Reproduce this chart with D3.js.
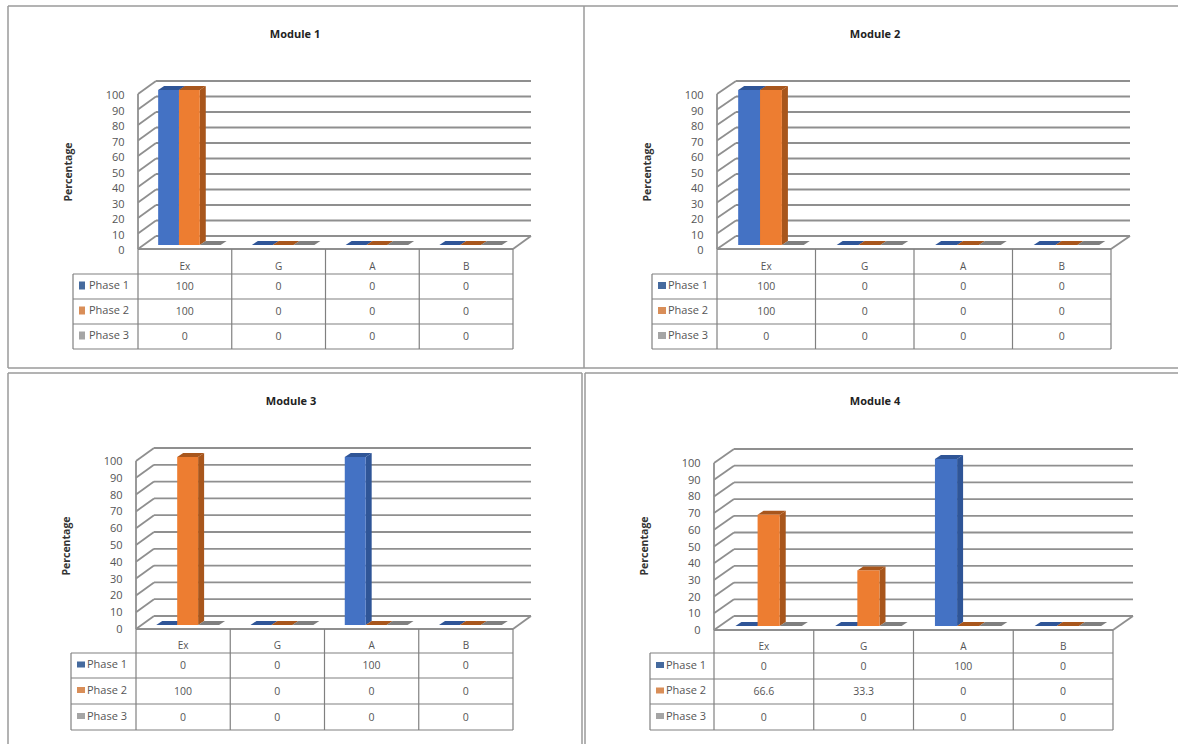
<!DOCTYPE html>
<html>
<head>
<meta charset="utf-8">
<script src="https://cdnjs.cloudflare.com/ajax/libs/d3/7.8.5/d3.min.js"></script>
<style>
  html, body { margin: 0; padding: 0; background: #fff; }
  svg { display: block; }
  text { font-family: "Open Sans", "DejaVu Sans", sans-serif; fill: #555; }
</style>
</head>
<body>
<svg id="sheet" width="1178" height="744"></svg>
<script>
// Table and chart content
const categories = ["Ex", "G", "A", "B"];
const phases = ["Phase 1", "Phase 2", "Phase 3"];
const yTicks = [0, 10, 20, 30, 40, 50, 60, 70, 80, 90, 100];

const module1Phase1 = [100, 0, 0, 0];
const module1Phase2 = [100, 0, 0, 0];
const module1Phase3 = [0, 0, 0, 0];

const module2Phase1 = [100, 0, 0, 0];
const module2Phase2 = [100, 0, 0, 0];
const module2Phase3 = [0, 0, 0, 0];

const module3Phase1 = [0, 0, 100, 0];
const module3Phase2 = [100, 0, 0, 0];
const module3Phase3 = [0, 0, 0, 0];

const module4Phase1 = [0, 0, 100, 0];
const module4Phase2 = [66.6, 33.3, 0, 0];
const module4Phase3 = [0, 0, 0, 0];

// Front, side and top shades for each phase's 3D column
const faceColors = ["#4472c4", "#ed7d31", "#a5a5a5"];
const sideColors = ["#2f5597", "#a8561c", "#7f7f7f"];
const topColors = ["#2f5597", "#a8561c", "#7f7f7f"];
const keyColors = ["#456a9e", "#d98e58", "#a5a5a5"];
const lineColor = "#8f8f8f";

// Placement of the four chart panels on the sheet
const panels = [
  { title: "Module 1", series: [module1Phase1, module1Phase2, module1Phase3],
    titleX: 295, titleY: 38, labelX: 72, labelY: 172, keyW: 6, keyH: 8, labelDy: 1,
    tableLeft: 73, x0: 138, x1: 513, y0: 249, y100: 94, depthX: 18, depthY: 13, rows: [274, 299, 324, 349] },
  { title: "Module 2", series: [module2Phase1, module2Phase2, module2Phase3],
    titleX: 875, titleY: 38, labelX: 651, labelY: 172, keyW: 8, keyH: 7, labelDy: 1,
    tableLeft: 652, x0: 717, x1: 1111, y0: 249, y100: 94, depthX: 19, depthY: 13, rows: [274, 299, 324, 349] },
  { title: "Module 3", series: [module3Phase1, module3Phase2, module3Phase3],
    titleX: 291, titleY: 405, labelX: 70, labelY: 546, keyW: 8, keyH: 6, labelDy: 0,
    tableLeft: 71, x0: 136, x1: 513, y0: 629, y100: 461, depthX: 18, depthY: 13, rows: [653, 678, 704, 730] },
  { title: "Module 4", series: [module4Phase1, module4Phase2, module4Phase3],
    titleX: 875, titleY: 405, labelX: 648, labelY: 546, keyW: 8, keyH: 6, labelDy: 0,
    tableLeft: 650, x0: 714, x1: 1113, y0: 630, y100: 463, depthX: 20, depthY: 14, rows: [653, 679, 704, 730] }
];

const svg = d3.select("#sheet");

// Sheet rules separating the panels
const rules = [
  [8, 6, 1178, 6], [8, 6, 8, 368], [8, 368, 584, 368], [584, 6, 584, 368],
  [584, 368, 1178, 368], [8, 373, 582, 373], [585, 373, 1178, 373],
  [8, 373, 8, 744], [582, 373, 582, 744], [585, 373, 585, 744]
];
svg.append("g").selectAll("line").data(rules).join("line")
  .attr("x1", d => d[0]).attr("y1", d => d[1])
  .attr("x2", d => d[2]).attr("y2", d => d[3])
  .attr("stroke", "#9a9a9a").attr("stroke-width", 1.5);

panels.forEach(drawPanel);

function drawPanel(p) {
  const g = svg.append("g");
  const depthX = p.depthX, depthY = p.depthY; // wall depth of the 3D box
  const barDepthX = 6, barDepthY = 4;         // depth of each column
  const barInsetY = 4;                        // columns stand behind the front edge

  const y = d3.scaleLinear().domain([0, 100]).range([p.y0, p.y100]);
  const x = d3.scaleBand().domain(categories).range([p.x0, p.x1]);
  const bw = x.bandwidth();
  const inner = d3.scaleBand().domain(phases).range([bw * 0.215, bw * 0.881]);

  // Title and axis title
  g.append("text").attr("x", p.titleX).attr("y", p.titleY)
    .attr("text-anchor", "middle").attr("font-size", 11).attr("font-weight", 700)
    .style("fill", "#222").text(p.title);
  g.append("text")
    .attr("transform", `translate(${p.labelX},${p.labelY}) rotate(-90)`)
    .attr("text-anchor", "middle").attr("font-size", 10.5).attr("font-weight", 700)
    .style("fill", "#333").text("Percentage");

  // Back wall gridlines, side wall slants and the floor
  const walls = g.append("g").attr("fill", "none").attr("stroke", lineColor).attr("stroke-width", 1.8);
  walls.selectAll("line.grid").data(yTicks).join("line").attr("class", "grid")
    .attr("x1", p.x0 + depthX).attr("x2", p.x1 + depthX)
    .attr("y1", d => y(d) - depthY).attr("y2", d => y(d) - depthY);
  walls.selectAll("line.slant").data(yTicks).join("line").attr("class", "slant")
    .attr("x1", p.x0).attr("x2", p.x0 + depthX)
    .attr("y1", d => y(d)).attr("y2", d => y(d) - depthY);
  walls.append("line").attr("x1", p.x0).attr("x2", p.x0)
    .attr("y1", y(0)).attr("y2", y(100));
  walls.append("line").attr("x1", p.x0).attr("x2", p.x1)
    .attr("y1", y(0)).attr("y2", y(0));
  walls.append("line").attr("x1", p.x1).attr("x2", p.x1 + depthX)
    .attr("y1", y(0)).attr("y2", y(0) - depthY);

  // Axis tick labels
  const axis = d3.axisLeft(y).tickValues(yTicks).tickSize(0).tickPadding(13.5);
  const axisG = g.append("g").attr("transform", `translate(${p.x0},${p.labelDy})`).call(axis);
  axisG.select(".domain").remove();
  axisG.selectAll("text").attr("font-size", 11).style("font-family", "\"Open Sans\", sans-serif");

  // Columns, drawn left to right within each category
  categories.forEach((cat, ci) => {
    phases.forEach((phase, si) => {
      const v = p.series[si][ci];
      const left = x(cat) + inner(phase);
      const w = inner.bandwidth();
      const base = y(0) - barInsetY;
      const top = y(v) - barInsetY;
      const col = g.append("g");
      col.append("path").attr("fill", topColors[si])
        .attr("d", d3.line()([[left, top], [left + barDepthX, top - barDepthY],
          [left + w + barDepthX, top - barDepthY], [left + w, top]]) + "Z");
      if (v > 0) {
        col.append("path").attr("fill", sideColors[si])
          .attr("d", d3.line()([[left + w, top], [left + w + barDepthX, top - barDepthY],
            [left + w + barDepthX, base - barDepthY], [left + w, base]]) + "Z");
        col.append("rect").attr("x", left).attr("y", top)
          .attr("width", w).attr("height", base - top).attr("fill", faceColors[si]);
      }
    });
  });

  // Data table beneath the plot
  const rowTops = [y(0)].concat(p.rows);
  const table = g.append("g").attr("stroke", "#808080").attr("stroke-width", 1.2);
  const columnEdges = x.domain().map(c => x(c)).concat([p.x1]);
  table.selectAll("line.col").data(columnEdges).join("line").attr("class", "col")
    .attr("x1", d => d).attr("x2", d => d)
    .attr("y1", rowTops[0]).attr("y2", rowTops[4]);
  table.append("line").attr("x1", p.tableLeft).attr("x2", p.tableLeft)
    .attr("y1", rowTops[1]).attr("y2", rowTops[4]);
  table.selectAll("line.row").data(p.rows).join("line").attr("class", "row")
    .attr("x1", p.tableLeft).attr("x2", p.x1)
    .attr("y1", d => d).attr("y2", d => d);

  g.selectAll("text.cat").data(categories).join("text").attr("class", "cat")
    .attr("x", d => x(d) + bw / 2)
    .attr("y", rowTops[0] + (rowTops[1] - rowTops[0]) / 2 + 8)
    .attr("text-anchor", "middle").attr("font-size", 10).text(d => d);

  phases.forEach((phase, si) => {
    const mid = (rowTops[si + 1] + rowTops[si + 2]) / 2;
    g.append("rect").attr("x", p.tableLeft + 6).attr("y", mid - p.keyH / 2 - 1)
      .attr("width", p.keyW).attr("height", p.keyH).attr("fill", keyColors[si]);
    g.append("text").attr("x", p.tableLeft + 16).attr("y", mid + 2.5)
      .attr("font-size", 11).text(phase);
    g.selectAll(null).data(p.series[si]).join("text")
      .attr("x", (d, i) => x(categories[i]) + bw / 2)
      .attr("y", mid + 3.7).attr("text-anchor", "middle")
      .attr("font-size", 10.5).text(d => d);
  });
}
</script>
</body>
</html>
